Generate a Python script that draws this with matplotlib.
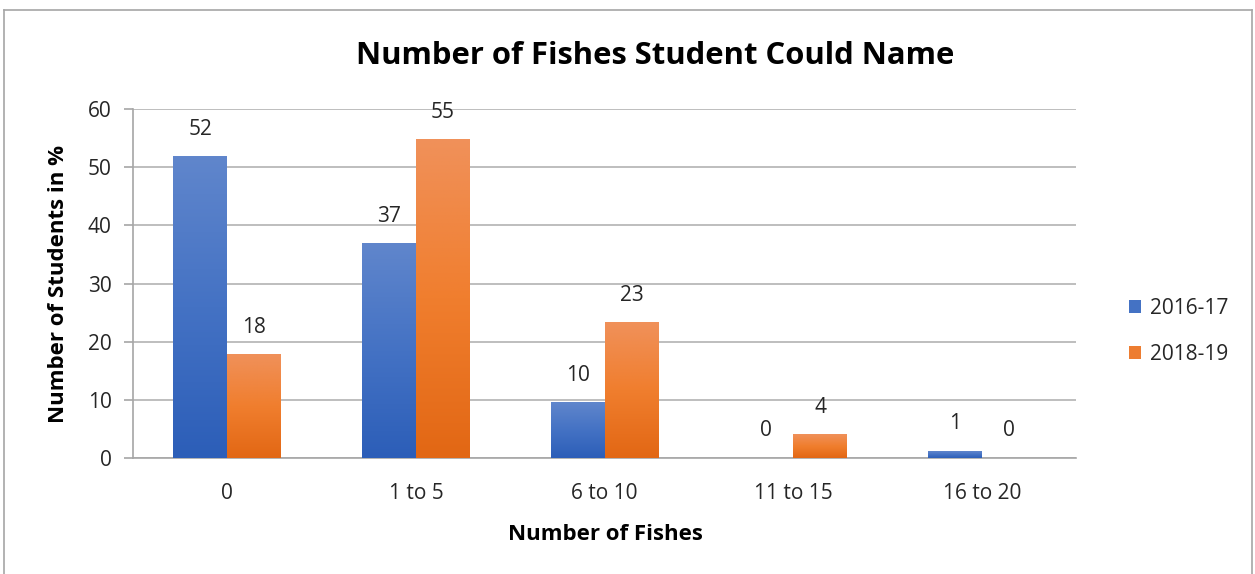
import numpy as np
import matplotlib
matplotlib.use("Agg")
import matplotlib.pyplot as plt
from matplotlib.colors import LinearSegmentedColormap
from matplotlib.lines import Line2D
from matplotlib.patches import Patch

# ------------------------------------------------------------
# Data
# ------------------------------------------------------------
categories = ["0", "1 to 5", "6 to 10", "11 to 15", "16 to 20"]
series_names = ["2016-17", "2018-19"]
vals_1617 = [51.9, 36.9, 9.6, 0, 1.2]
vals_1819 = [17.8, 54.8, 23.3, 4.1, 0]

plt.rcParams['font.family'] = ['Open Sans', 'DejaVu Sans']

blue_cmap = LinearSegmentedColormap.from_list("blue", ["#2c5eb8", "#4472c4", "#6086cc"])
orange_cmap = LinearSegmentedColormap.from_list("orange", ["#e26714", "#f07e2e", "#f0915a"])
grad = np.linspace(0, 1, 256).reshape(-1, 1)

fig = plt.figure(figsize=(12.55, 5.74), dpi=100)
ax = fig.add_axes([133 / 1255, 1 - 458 / 574, (1076 - 133) / 1255, (458 - 109) / 574])

x = np.arange(len(categories))
w = 0.286

for vals, cmap, off in [(vals_1617, blue_cmap, -w / 2), (vals_1819, orange_cmap, w / 2)]:
    for xi, v in zip(x, vals):
        xc = xi + off
        if v > 0:
            ax.imshow(grad, extent=[xc - w / 2, xc + w / 2, 0, v], origin='lower',
                      aspect='auto', cmap=cmap, zorder=3, interpolation='bilinear')
        ax.annotate(f"{v:.0f}", (xc, v), xytext=(0, 19.5), textcoords='offset points',
                    ha='center', va='center', fontsize=15, color='#262626', zorder=4)

ax.set_xlim(-0.5, len(categories) - 0.5)
ax.set_ylim(0, 60)
ax.set_yticks(range(0, 61, 10))
ax.set_xticks(x)
ax.set_xticklabels(categories)
ax.grid(axis='y', color='#b3b3b3', linewidth=1.2, zorder=0)
ax.set_axisbelow(True)

for s in ['top', 'right']:
    ax.spines[s].set_visible(False)
for s in ['left', 'bottom']:
    ax.spines[s].set_color('#a6a6a6')
    ax.spines[s].set_linewidth(1.2)

ax.tick_params(axis='y', length=6.5, width=1.2, color='#a6a6a6', pad=9,
               labelsize=15, labelcolor='#262626')
ax.tick_params(axis='x', length=0, pad=18, labelsize=15, labelcolor='#262626')

fig.text(655 / 1255, 1 - 56 / 574, "Number of Fishes Student Could Name",
         ha='center', va='center', fontsize=22.3, fontweight='bold', color='black')
fig.text(59 / 1255, 1 - 284 / 574, "Number of Students in %", rotation=90,
         ha='center', va='center', fontsize=16, fontweight='bold', color='black')
fig.text(605 / 1255, 1 - 534 / 574, "Number of Fishes",
         ha='center', va='center', fontsize=16, fontweight='bold', color='black')

handles = [Patch(facecolor="#4472c4"), Patch(facecolor="#ed7d31")]
fig.legend(handles, series_names, loc='center left',
           bbox_to_anchor=(1110 / 1255, 1 - 331 / 574), frameon=False,
           fontsize=15, handlelength=0.6, handleheight=0.6, handletextpad=0.4,
           labelspacing=1.2, labelcolor='#262626')

# chart border (top, left, right)
border = dict(color='#a6a6a6', linewidth=1.2, transform=fig.transFigure)
fig.add_artist(Line2D([4 / 1255, 1252 / 1255], [1 - 10 / 574, 1 - 10 / 574], **border))
fig.add_artist(Line2D([4 / 1255, 4 / 1255], [0, 1 - 10 / 574], **border))
fig.add_artist(Line2D([1252 / 1255, 1252 / 1255], [0, 1 - 10 / 574], **border))

fig.savefig("out.png", dpi=100)
